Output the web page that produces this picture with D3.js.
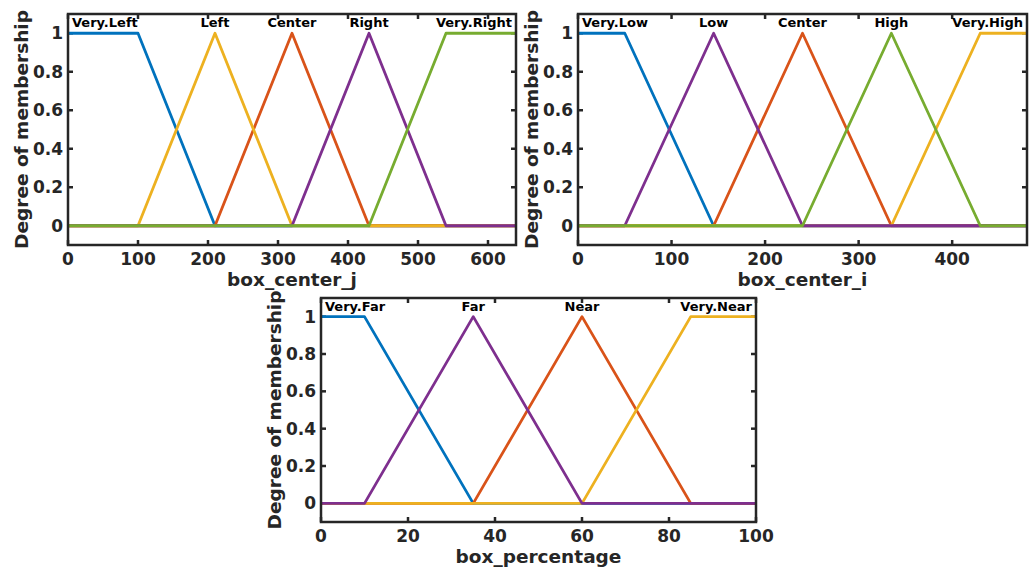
<!DOCTYPE html>
<html>
<head>
<meta charset="utf-8">
<script src="https://d3js.org/d3.v7.min.js"></script>
<style>
  body { margin: 0; background: #fff; }
  svg text { font-family: "DejaVu Sans", sans-serif; font-weight: bold; }
</style>
</head>
<body>
<svg id="chart" width="1035" height="568"></svg>
<script>
// MATLAB default line colours
const BLUE = '#0072BD', ORANGE = '#D95319', YELLOW = '#EDB120', PURPLE = '#7E2F8E', GREEN = '#77AC30';

// box_center_j membership functions (draw order)
const jNames = ['Very.Left', 'Center', 'Left', 'Right', 'Very.Right'];
const jParams = [[0, 0, 100, 210], [210, 320, 430], [100, 210, 320], [320, 430, 540], [430, 540, 640, 640]];
const jColors = [BLUE, ORANGE, YELLOW, PURPLE, GREEN];
const jTicks = [0, 100, 200, 300, 400, 500, 600];

// box_center_i membership functions
const iNames = ['Very.Low', 'Center', 'Very.High', 'Low', 'High'];
const iParams = [[0, 0, 50, 145], [145, 240, 335], [335, 430, 480, 480], [50, 145, 240], [240, 335, 430]];
const iColors = [BLUE, ORANGE, YELLOW, PURPLE, GREEN];
const iTicks = [0, 100, 200, 300, 400];

// box_percentage membership functions
const pNames = ['Very.Far', 'Near', 'Very.Near', 'Far'];
const pParams = [[0, 0, 10, 35], [35, 60, 85], [60, 85, 100, 100], [10, 35, 60]];
const pColors = [BLUE, ORANGE, YELLOW, PURPLE];
const pTicks = [0, 20, 40, 60, 80, 100];

const yTicks = [0, 0.2, 0.4, 0.6, 0.8, 1];

const svg = d3.select('#chart');
const AXIS = '#262626';

// turn trimf / trapmf parameters into polyline vertices over the full range
function mfPoints(p, xmax) {
    if (p.length === 3) {
        return [[0, 0], [p[0], 0], [p[1], 1], [p[2], 0], [xmax, 0]];
    }
    const pts = [];
    if (p[0] === p[1]) pts.push([p[0], 1]); else pts.push([0, 0], [p[0], 0]);
    pts.push([p[1], 1], [p[2], 1]);
    if (p[2] === p[3]) pts.push([xmax, 1]); else pts.push([p[3], 0], [xmax, 0]);
    return pts;
}

function drawPanel(cfg) {
    const g = svg.append('g');
    const x = d3.scaleLinear().domain([0, cfg.xmax]).range([cfg.left, cfg.right]);
    const y = d3.scaleLinear().domain([-0.1, 1.1]).range([cfg.bottom, cfg.top]);

    // ticks inside the box on all four sides
    const tl = 5;
    yTicks.forEach(t => {
        g.append('line').attr('x1', cfg.left).attr('x2', cfg.left + tl)
            .attr('y1', y(t)).attr('y2', y(t)).attr('stroke', AXIS).attr('stroke-width', 2.5);
        g.append('line').attr('x1', cfg.right).attr('x2', cfg.right - tl)
            .attr('y1', y(t)).attr('y2', y(t)).attr('stroke', AXIS).attr('stroke-width', 2.5);
        g.append('text').attr('x', cfg.left - 5).attr('y', y(t) + 6)
            .attr('text-anchor', 'end').attr('font-size', 17).attr('fill', AXIS)
            .text(d3.format('~g')(t));
    });
    cfg.xTicks.forEach(t => {
        g.append('line').attr('x1', x(t)).attr('x2', x(t))
            .attr('y1', cfg.bottom).attr('y2', cfg.bottom - tl).attr('stroke', AXIS).attr('stroke-width', 2.5);
        g.append('line').attr('x1', x(t)).attr('x2', x(t))
            .attr('y1', cfg.top).attr('y2', cfg.top + tl).attr('stroke', AXIS).attr('stroke-width', 2.5);
        g.append('text').attr('x', x(t)).attr('y', cfg.bottom + 20)
            .attr('text-anchor', 'middle').attr('font-size', 17).attr('fill', AXIS)
            .text(t);
    });

    const line = d3.line().x(d => x(d[0])).y(d => y(d[1]));
    cfg.params.forEach((p, k) => {
        g.append('path')
            .attr('d', line(mfPoints(p, cfg.xmax)))
            .attr('fill', 'none')
            .attr('stroke', cfg.colors[k])
            .attr('stroke-width', 2.8)
            .attr('stroke-linejoin', 'round');
    });

    // membership function names, centred over the plateau, kept inside the box
    cfg.params.forEach((p, k) => {
        const cx = p.length === 3 ? p[1] : (p[1] + p[2]) / 2;
        const t = g.append('text')
            .attr('x', x(cx)).attr('y', cfg.top + 13)
            .attr('text-anchor', 'middle').attr('font-size', 13).attr('fill', '#000')
            .text(cfg.names[k]);
        const w = t.node().getComputedTextLength();
        let px = x(cx);
        if (px - w / 2 < cfg.left + 4) px = cfg.left + 4 + w / 2;
        if (px + w / 2 > cfg.right - 4) px = cfg.right - 4 - w / 2;
        t.attr('x', px);
    });

    g.append('rect')
        .attr('x', cfg.left).attr('y', cfg.top)
        .attr('width', cfg.right - cfg.left).attr('height', cfg.bottom - cfg.top)
        .attr('fill', 'none').attr('stroke', AXIS).attr('stroke-width', 2.5);

    g.append('text')
        .attr('x', (cfg.left + cfg.right) / 2).attr('y', cfg.bottom + 41)
        .attr('text-anchor', 'middle').attr('font-size', 18.5).attr('fill', AXIS)
        .text(cfg.xlabel);
    g.append('text')
        .attr('transform', `translate(${cfg.left - 40},${(cfg.top + cfg.bottom) / 2}) rotate(-90)`)
        .attr('text-anchor', 'middle').attr('font-size', 18.5).attr('fill', AXIS)
        .text('Degree of membership');
}

drawPanel({left: 68, right: 516, top: 14, bottom: 245, xmax: 640, xTicks: jTicks,
    names: jNames, params: jParams, colors: jColors, xlabel: 'box_center_j'});
drawPanel({left: 578, right: 1027, top: 14, bottom: 245, xmax: 480, xTicks: iTicks,
    names: iNames, params: iParams, colors: iColors, xlabel: 'box_center_i'});
drawPanel({left: 321, right: 756, top: 298, bottom: 522, xmax: 100, xTicks: pTicks,
    names: pNames, params: pParams, colors: pColors, xlabel: 'box_percentage'});
</script>
</body>
</html>
